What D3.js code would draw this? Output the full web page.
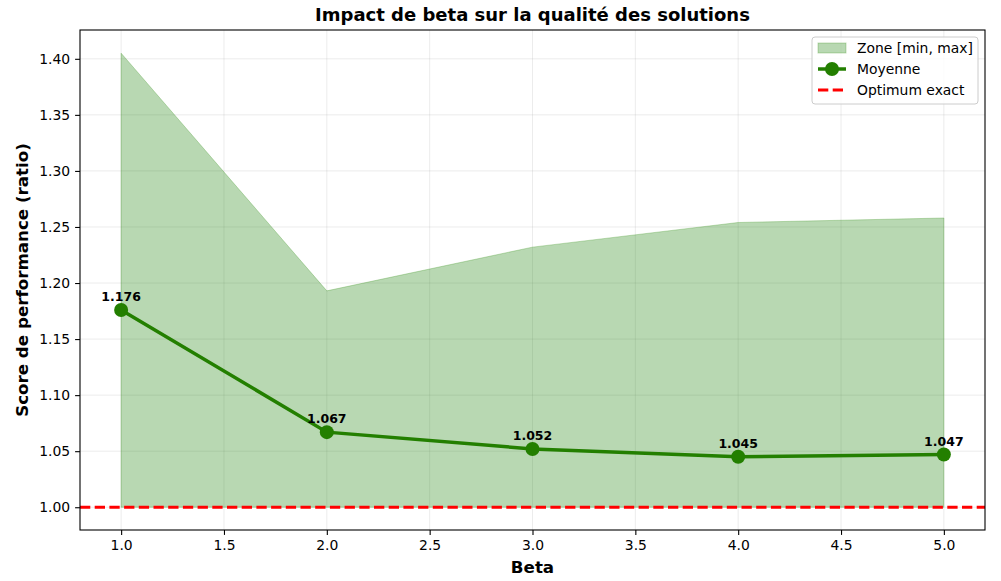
<!DOCTYPE html>
<html>
<head>
<meta charset="utf-8">
<script src="https://cdn.jsdelivr.net/npm/d3@7"></script>
<style>
  body { margin: 0; background: #fff; }
  svg text { font-family: "DejaVu Sans", sans-serif; }
</style>
</head>
<body>
<svg id="chart" width="1001" height="581"></svg>
<script>
// values
const betas = [1, 2, 3, 4, 5];
const meanScores = [1.176, 1.067, 1.052, 1.045, 1.047];
const minScores = [1.0, 1.0, 1.0, 1.0, 1.0];
const maxScores = [1.405, 1.193, 1.232, 1.254, 1.258];
const optimum = 1.0;
const xTicks = [1.0, 1.5, 2.0, 2.5, 3.0, 3.5, 4.0, 4.5, 5.0];
const yTicks = [1.00, 1.05, 1.10, 1.15, 1.20, 1.25, 1.30, 1.35, 1.40];

const margin = { top: 30, right: 16, bottom: 51, left: 80 };
const width = 1001 - margin.left - margin.right;
const height = 581 - margin.top - margin.bottom;

const lineColor = "#237f00";

const svg = d3.select("#chart");
const g = svg.append("g")
  .attr("transform", "translate(" + margin.left + "," + margin.top + ")");

const xScale = d3.scaleLinear().domain([0.8, 5.2]).range([0, width]);
const yScale = d3.scaleLinear().domain([0.9797, 1.4257]).range([height, 0]);

const data = betas.map(function (b, i) {
  return { beta: b, mean: meanScores[i], min: minScores[i], max: maxScores[i] };
});

// grid
g.append("g").selectAll("line").data(xTicks).join("line")
  .attr("x1", d => xScale(d)).attr("x2", d => xScale(d))
  .attr("y1", 0).attr("y2", height)
  .attr("stroke", "#b0b0b0").attr("stroke-opacity", 0.3).attr("stroke-width", 0.8);
g.append("g").selectAll("line").data(yTicks).join("line")
  .attr("y1", d => yScale(d)).attr("y2", d => yScale(d))
  .attr("x1", 0).attr("x2", width)
  .attr("stroke", "#b0b0b0").attr("stroke-opacity", 0.3).attr("stroke-width", 0.8);

// min/max zone
const area = d3.area()
  .x(d => xScale(d.beta))
  .y0(d => yScale(d.min))
  .y1(d => yScale(d.max));
g.append("path")
  .datum(data)
  .attr("d", area)
  .attr("fill", "rgba(20,125,0,0.3)")
  .attr("stroke", "rgba(60,150,30,0.3)")
  .attr("stroke-width", 1);

// optimum line
g.append("line")
  .attr("x1", 0).attr("x2", width)
  .attr("y1", yScale(optimum)).attr("y2", yScale(optimum))
  .attr("stroke", "#ff0000").attr("stroke-width", 2.8)
  .attr("stroke-dasharray", "10.3,4.4");

// mean line
const line = d3.line().x(d => xScale(d.beta)).y(d => yScale(d.mean));
g.append("path")
  .datum(data)
  .attr("d", line)
  .attr("fill", "none")
  .attr("stroke", lineColor)
  .attr("stroke-width", 3.5);

g.selectAll(".pt").data(data).join("circle")
  .attr("class", "pt")
  .attr("cx", d => xScale(d.beta))
  .attr("cy", d => yScale(d.mean))
  .attr("r", 7)
  .attr("fill", lineColor);

g.selectAll(".lbl").data(data).join("text")
  .attr("class", "lbl")
  .attr("x", d => xScale(d.beta))
  .attr("y", d => yScale(d.mean) - 9)
  .attr("text-anchor", "middle")
  .attr("font-size", "12.5px")
  .attr("font-weight", "bold")
  .text(d => d.mean.toFixed(3));

// axes
const xAxis = g.append("g")
  .attr("transform", "translate(0," + height + ")")
  .call(d3.axisBottom(xScale).tickValues(xTicks).tickFormat(d3.format(".1f")).tickSize(4.9).tickPadding(4.9));
const yAxis = g.append("g")
  .call(d3.axisLeft(yScale).tickValues(yTicks).tickFormat(d3.format(".2f")).tickSize(4.9).tickPadding(4.9));
[xAxis, yAxis].forEach(function (ax) {
  ax.selectAll("text").attr("font-size", "13.9px").attr("fill", "#000")
    .style("font-family", "DejaVu Sans, sans-serif");
  ax.selectAll("line").attr("stroke", "#000").attr("stroke-width", 1.1);
  ax.select(".domain").remove();
});

g.append("rect")
  .attr("width", width).attr("height", height)
  .attr("fill", "none").attr("stroke", "#000").attr("stroke-width", 1.1);

// titles
svg.append("text")
  .attr("x", margin.left + width / 2).attr("y", 21)
  .attr("text-anchor", "middle")
  .attr("font-size", "18px").attr("font-weight", "bold")
  .text("Impact de beta sur la qualité des solutions");
svg.append("text")
  .attr("x", margin.left + width / 2).attr("y", 573)
  .attr("text-anchor", "middle")
  .attr("font-size", "16.7px").attr("font-weight", "bold")
  .text("Beta");
svg.append("text")
  .attr("transform", "translate(28," + (margin.top + height / 2) + ") rotate(-90)")
  .attr("text-anchor", "middle")
  .attr("font-size", "16.7px").attr("font-weight", "bold")
  .text("Score de performance (ratio)");

// legend
const legend = svg.append("g").attr("transform", "translate(812,37)");
legend.append("rect")
  .attr("width", 166).attr("height", 67).attr("rx", 3)
  .attr("fill", "rgba(255,255,255,0.8)").attr("stroke", "#cccccc").attr("stroke-width", 1);
legend.append("rect")
  .attr("x", 6).attr("y", 6).attr("width", 28).attr("height", 10)
  .attr("fill", "rgba(20,125,0,0.3)").attr("stroke", "rgba(60,150,30,0.3)");
legend.append("line")
  .attr("x1", 6).attr("x2", 34).attr("y1", 32).attr("y2", 32)
  .attr("stroke", lineColor).attr("stroke-width", 3.5);
legend.append("circle")
  .attr("cx", 20).attr("cy", 32).attr("r", 7).attr("fill", lineColor);
legend.append("line")
  .attr("x1", 6).attr("x2", 34).attr("y1", 53).attr("y2", 53)
  .attr("stroke", "#ff0000").attr("stroke-width", 2.8)
  .attr("stroke-dasharray", "10.3,4.4");
const legendLabels = ["Zone [min, max]", "Moyenne", "Optimum exact"];
legend.selectAll(".lt").data(legendLabels).join("text")
  .attr("class", "lt")
  .attr("x", 45)
  .attr("y", (d, i) => 16 + i * 21)
  .attr("font-size", "13.9px")
  .text(d => d);
</script>
</body>
</html>
